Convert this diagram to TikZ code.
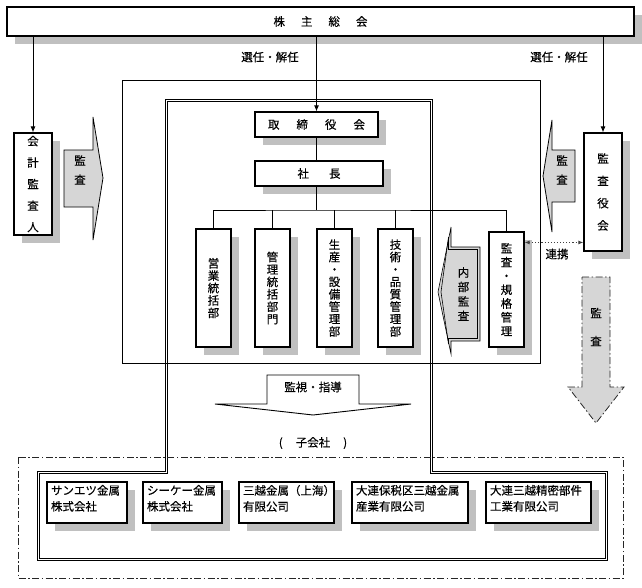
\documentclass[tikz,border=0pt]{standalone}
\usepackage{fontspec}
\newfontfamily\jp[FakeBold=0.3]{Noto Sans CJK JP}
\usetikzlibrary{arrows.meta,shadows}
\definecolor{shd}{HTML}{C0C0C0}
\definecolor{afill}{HTML}{D6D6D6}
\newcommand\jfs[1]{\jp\fontsize{11.5}{#1}\selectfont}
\begin{document}
\begin{tikzpicture}[x=1pt,y=-1pt,
  every node/.style={font=\jfs{14}, inner sep=0pt},
  box/.style={draw, line width=1.1pt, fill=white,
    drop shadow={shadow xshift=8pt, shadow yshift=-8pt, fill=shd, opacity=1}},
  vt/.style={align=center, font=\jfs{#1}},
  arr/.style={-{Latex[length=6pt,width=5pt]}, line width=1pt},
  ln/.style={line width=0.9pt},
  frameline/.style={line width=0.7pt},
  shapearrow/.style={draw, line width=0.8pt, fill=afill, line join=miter},
  link/.style={{Latex[length=5pt,width=4pt]}-{Latex[length=5pt,width=4pt]}, dotted, line width=1.1pt, black!75},
  sub/.style={box, minimum height=41pt, align=left},
  dashdot/.style={line width=0.8pt, black!85, dash pattern=on 7pt off 2.5pt on 1.5pt off 2.5pt},
]
\useasboundingbox (0,0) rectangle (642,587);

% frames
\draw[ln] (122,80) rectangle (540,363);
\draw[frameline] (164.9,98.9) -- (432.1,98.9) -- (432.1,470.9) -- (607.1,470.9) -- (607.1,560.1) -- (36.9,560.1) -- (36.9,470.9) -- (164.9,470.9) -- cycle;
\draw[frameline] (167.1,101.1) -- (429.9,101.1) -- (429.9,473.1) -- (604.9,473.1) -- (604.9,557.9) -- (39.1,557.9) -- (39.1,473.1) -- (167.1,473.1) -- cycle;
\draw[dashdot] (18,457) rectangle (623,578);

% top
\node[box, minimum width=627pt, minimum height=29pt] (soukai) at (320.5,21.5)
  {株\hspace{16pt}主\hspace{16pt}総\hspace{16pt}会};

\node[box, minimum width=38pt, minimum height=102pt, vt=21.5] (kaikei) at (33,184) {会\\計\\監\\査\\人};
\node[box, minimum width=38pt, minimum height=118pt, vt=22.3] (kansayaku) at (603,192) {監\\査\\役\\会};

\node[box, minimum width=123pt, minimum height=25pt] (torishimari) at (316.5,124.5)
  {取\hspace{17pt}締\hspace{17pt}役\hspace{17pt}会};
\node[box, minimum width=128pt, minimum height=25pt] (shacho) at (319,173.5)
  {社\hspace{20pt}長};

\node[box, minimum width=35pt, minimum height=118pt, vt=12.4] (d1) at (213.5,288) {営\\業\\統\\括\\部};
\node[box, minimum width=35pt, minimum height=118pt, vt=12.4] (d2) at (272.5,288) {管\\理\\統\\括\\部\\門};
\node[box, minimum width=35pt, minimum height=118pt, vt=12.4] (d3) at (334.5,288) {生\\産\\・\\設\\備\\管\\理\\部};
\node[box, minimum width=35pt, minimum height=118pt, vt=12.4] (d4) at (395.5,288) {技\\術\\・\\品\\質\\管\\理\\部};
\node[box, minimum width=35pt, minimum height=115pt, vt=13.8] (d5) at (506.5,289.5) {監\\査\\・\\規\\格\\管\\理};

% connectors
\draw[arr] (kaikei.north |- soukai.south) -- (kaikei.north);
\draw[arr] (torishimari.north |- soukai.south) -- (torishimari.north);
\draw[arr] (kansayaku.north |- soukai.south) -- (kansayaku.north);
\draw[ln] (torishimari.south) -- (torishimari.south |- shacho.north);
\coordinate (bus) at (316.5,210);
\draw[ln] (bus |- shacho.south) -- (bus);
\draw[ln] (d1.north) |- (bus) -| (d5.north);
\draw[ln] (d2.north) -- (d2.north |- bus);
\draw[ln] (d3.north) -- (d3.north |- bus);
\draw[ln] (d4.north) -- (d4.north |- bus);
\draw[link] ([yshift=-11pt]d5.north east) coordinate (lk) -- (lk -| kansayaku.west);

\node (renkei) at (557,254) {連携};
\node (sen1) at (270,57) {選任・解任};
\node (sen2) at (559,57) {選任・解任};

% shape arrows
\draw[shapearrow] (64,150) -- (93,150) -- (93,117) -- (103,178) -- (93,240) -- (93,207) -- (64,207) -- cycle;
\node[vt=19] (kansaL) at (80,170) {監\\査};
\draw[shapearrow] (575,150) -- (552,150) -- (552,120) -- (543,176) -- (552,232) -- (552,202) -- (575,202) -- cycle;
\node[vt=19] (kansaR) at (562,170) {監\\査};
\draw[shapearrow, line width=0.6pt] (480,247) -- (451,247) -- (451,227) -- (438,292) -- (451,354) -- (451,341) -- (480,341) -- cycle;
\draw[line width=0.6pt, line join=miter] (477.5,249.5) -- (448.5,249.5) -- (448.5,237) -- (441,292) -- (448.5,344) -- (448.5,338.5) -- (477.5,338.5) -- cycle;
\node[vt=14.5] (naibu) at (463.5,294) {内\\部\\監\\査};
\draw[dashdot, fill=afill]
  (582,277) -- (610,277) -- (610,387) -- (624,387) -- (596,423) -- (568,387) -- (582,387) -- cycle;
\node[vt=28] (kansaD) at (596,327) {監\\査};
\draw[ln, fill=white] (267,375) -- (359,375) -- (359,404) -- (411,404) -- (313,415) -- (215,404) -- (267,404) -- cycle;
\node (kanshi) at (313,387) {監視・指導};
\node (kogaisha) at (313,443) {(\hspace{13pt}子会社\hspace{13pt})};

% subsidiaries
\node[sub, minimum width=80pt] (s1) at (87,502.5) {\parbox[c][35pt][t]{72pt}{\jfs{16}サンエツ金属\\株式会社}};
\node[sub, minimum width=79pt] (s2) at (182.5,502.5) {\parbox[c][35pt][t]{71pt}{\jfs{16}シーケー金属\\株式会社}};
\node[sub, minimum width=95pt] (s3) at (286.5,502.5) {\parbox[c][35pt][t]{87pt}{\jfs{16}三越金属（上海）\\有限公司}};
\node[sub, minimum width=116pt] (s4) at (410,502.5) {\parbox[c][35pt][t]{108pt}{\jfs{16}大連保税区三越金属\\産業有限公司}};
\node[sub, minimum width=105pt] (s5) at (538.5,502.5) {\parbox[c][35pt][t]{97pt}{\jfs{16}大連三越精密部件\\工業有限公司}};
\end{tikzpicture}
\end{document}
